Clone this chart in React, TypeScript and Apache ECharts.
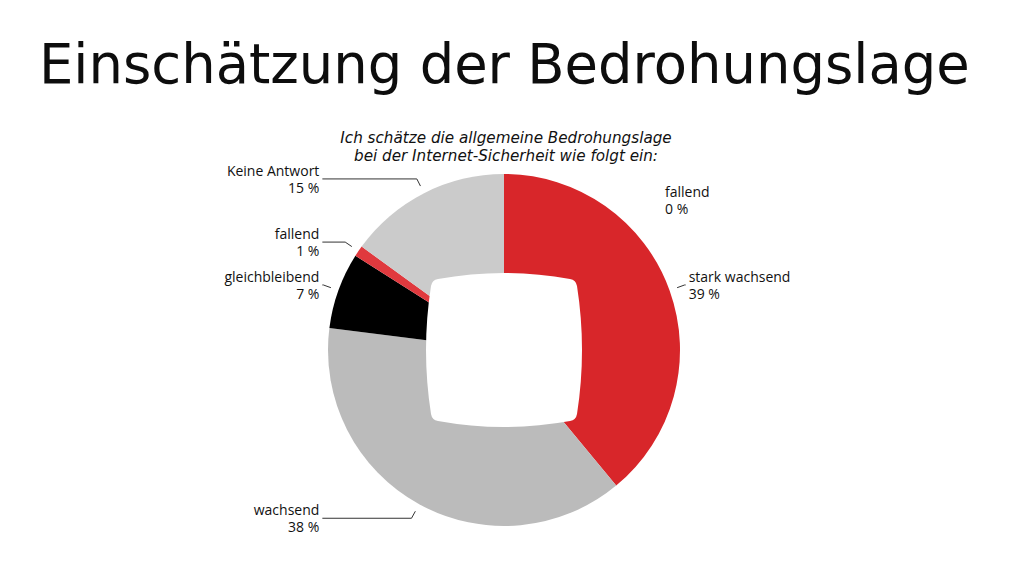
import React, { useEffect, useRef } from "react";
import * as echarts from "echarts";

const titleText = "Einschätzung der Bedrohungslage";
const subtitleText = "Ich schätze die allgemeine Bedrohungslage\nbei der Internet-Sicherheit wie folgt ein:";
const categories = ["fallend", "stark wachsend", "wachsend", "gleichbleibend", "fallend", "Keine Antwort"];
const values = [0, 39, 38, 7, 1, 15];
const sliceColors = ["#d8262a", "#d8262a", "#bbbbbb", "#000000", "#e0393e", "#cbcbcb"];

const HOLE_PATH =
  "M -66 -71 Q 0 -83 66 -71 Q 72 -70 73 -64 Q 83 0 73 64 Q 72 70 66 71 Q 0 83 -66 71 Q -72 70 -73 64 Q -83 0 -73 -64 Q -72 -70 -66 -71 Z";

let registered = false;
function registerHole() {
  if (registered) return;
  echarts.graphic.registerShape("hole", echarts.graphic.extendPath(HOLE_PATH, {}) as any);
  registered = true;
}

export default function App() {
  const ref = useRef<HTMLDivElement>(null);
  useEffect(() => {
    document.body.style.margin = "0";
    registerHole();
    const chart = echarts.init(ref.current!, null, { renderer: "svg" });
    const labelFont = "'Open Sans', 'Noto Sans', sans-serif";
    const labelStyle = {
      formatter: "{b}\n{c} %",
      fontFamily: labelFont,
      fontSize: 14,
      lineHeight: 17,
      color: "#111",
    };
    // visible pie; only the zero-valued item carries a label (placed by labelLayout)
    const pieData = categories.map((name, i) => ({
      name,
      value: values[i],
      itemStyle: { color: sliceColors[i] },
      label: { show: values[i] === 0 },
      labelLine: { show: false },
    }));
    // transparent label pie; carries labels for non-zero items
    const labelData = categories.map((name, i) => ({
      name,
      value: values[i],
      label: { show: values[i] > 0 },
      labelLine: { show: values[i] > 0 },
    }));
    chart.setOption({
      animation: false,
      backgroundColor: "#ffffff",
      title: [
        {
          text: titleText,
          left: 34,
          top: 32,
          textStyle: {
            fontFamily: "'DejaVu Sans', sans-serif",
            fontSize: 54.4,
            fontWeight: "normal",
            color: "#0d0d0d",
          },
        },
        {
          text: subtitleText,
          left: 501,
          top: 124,
          textAlign: "center",
          textStyle: {
            fontFamily: "'DejaVu Sans', sans-serif",
            fontSize: 15.2,
            fontStyle: "italic",
            fontWeight: "normal",
            color: "#111",
            lineHeight: 18,
          },
        },
      ],
      series: [
        {
          type: "pie",
          center: [504, 350],
          radius: [0, 176],
          startAngle: 90,
          clockwise: true,
          silent: true,
          label: { ...labelStyle, show: false },
          labelLine: { show: false },
          labelLayout: (params: any) => {
            if (values[params.dataIndex] === 0) {
              return { x: 665, y: 200, align: "left", verticalAlign: "middle" };
            }
            return {};
          },
          data: pieData,
        },
        {
          type: "pie",
          center: [504, 350],
          radius: [0, 184],
          startAngle: 90,
          clockwise: true,
          silent: true,
          itemStyle: { color: "rgba(0,0,0,0)" },
          label: {
            ...labelStyle,
            show: true,
            alignTo: "labelLine",
            distanceToLabelLine: 3,
          },
          labelLine: {
            show: true,
            length: 8,
            length2: 1,
            lineStyle: { color: "#333", width: 1 },
          },
          data: labelData,
        },
      ],
      graphic: [
        {
          type: "hole",
          x: 504,
          y: 350,
          z: 100,
          silent: true,
          style: { fill: "#ffffff" },
        },
      ],
    } as any);
    return () => chart.dispose();
  }, []);
  return <div ref={ref} style={{ width: 1011, height: 567 }} />;
}
